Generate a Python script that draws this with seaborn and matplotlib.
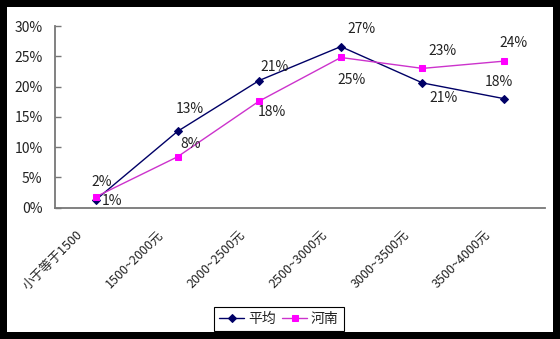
import matplotlib
matplotlib.use("Agg")
import matplotlib.pyplot as plt
from matplotlib.patches import Rectangle
import numpy as np
import pandas as pd
import seaborn as sns

# Income brackets and share of respondents (%) per bracket
categories = ["小于等于1500", "1500~2000元", "2000~2500元", "2500~3000元", "3000~3500元", "3500~4000元"]
avg_values = [1.3, 12.6, 21.0, 26.6, 20.6, 18.0]      # 平均
henan_values = [1.8, 8.4, 17.6, 24.8, 23.0, 24.2]     # 河南
y_ticks = [0, 5, 10, 15, 20, 25, 30]

# label placement (pixel offsets from each point)
avg_label_offsets = [(16, -1), (12, 22), (15, 14), (21, 18), (21, -15), (-5, 17)]
henan_label_offsets = [(6, 15), (13, 13), (13, -11), (11, -23), (20, 17), (9, 18)]

sns.set_theme(style="white")
plt.rcParams["font.family"] = ["Noto Sans CJK SC", "DejaVu Sans"]

W, H = 560, 339
fig = plt.figure(figsize=(W / 100, H / 100), dpi=100)
fig.patch.set_facecolor("black")
fig.patches.append(Rectangle((7 / W, 7 / H), 546 / W, 325 / H, transform=fig.transFigure,
                             facecolor="white", edgecolor="none", zorder=-10))

ax = fig.add_axes([55 / W, 131.3 / H, 490 / W, 181.7 / H])
ax.set_facecolor("none")

x = np.arange(len(categories))
df = pd.DataFrame({"x": np.concatenate([x, x]),
                   "value": avg_values + henan_values,
                   "series": ["平均"] * len(x) + ["河南"] * len(x)})

avg_color = "#000066"
henan_line = "#CC33CC"
henan_marker = "#FF00FF"
text_color = "#222222"

sns.lineplot(data=df[df.series == "平均"], x="x", y="value", ax=ax, color=avg_color,
             linewidth=1.0, marker="D", markersize=4.5, markerfacecolor=avg_color,
             markeredgecolor=avg_color, label="平均")
sns.lineplot(data=df[df.series == "河南"], x="x", y="value", ax=ax, color=henan_line,
             linewidth=1.0, marker="s", markersize=5, markerfacecolor=henan_marker,
             markeredgecolor=henan_marker, label="河南")

for xi, v, off in zip(x, avg_values, avg_label_offsets):
    ax.annotate(f"{v:.0f}%", (xi, v), xytext=off, textcoords="offset pixels",
                ha="center", va="center", fontsize=10, color=text_color)
for xi, v, off in zip(x, henan_values, henan_label_offsets):
    ax.annotate(f"{v:.0f}%", (xi, v), xytext=off, textcoords="offset pixels",
                ha="center", va="center", fontsize=10, color=text_color)

ax.set_xlim(-0.5, len(categories) - 0.5)
ax.set_ylim(0, 30)
ax.set_yticks(y_ticks)
ax.set_yticklabels([f"{t}%" for t in y_ticks], fontsize=10, color=text_color)

# tick marks at bracket boundaries; rotated labels hang just left of each bracket centre
ax.set_xticks(np.arange(len(categories) + 1) - 0.5)
ax.set_xticklabels([])
ax.set_xticks(x - 0.13, minor=True)
ax.set_xticklabels(categories, minor=True, rotation=45, ha="right", va="top",
                   fontsize=9, color=text_color)
ax.tick_params(axis="x", which="major", direction="in", length=4, width=1, color="#777777")
ax.tick_params(axis="x", which="minor", length=0, pad=15)
ax.tick_params(axis="y", direction="in", length=4, width=1, color="#777777", pad=9, left=True)
ax.set_xlabel("")
ax.set_ylabel("")

for side in ("top", "right"):
    ax.spines[side].set_visible(False)
for side in ("left", "bottom"):
    ax.spines[side].set_color("#777777")
    ax.spines[side].set_linewidth(1.3)

handles, labels = ax.get_legend_handles_labels()
ax.get_legend().remove()
leg = fig.legend(handles, labels, loc="center", bbox_to_anchor=(279 / W, 20 / H),
                 ncol=2, fontsize=10, frameon=True, fancybox=False, framealpha=1,
                 edgecolor="black", handlelength=1.8, handletextpad=0.25,
                 columnspacing=0.5, borderpad=0.35, borderaxespad=0)
leg.get_frame().set_linewidth(0.8)
for t in leg.get_texts():
    t.set_color(text_color)

fig.savefig("out.png", dpi=100, facecolor=fig.get_facecolor())
